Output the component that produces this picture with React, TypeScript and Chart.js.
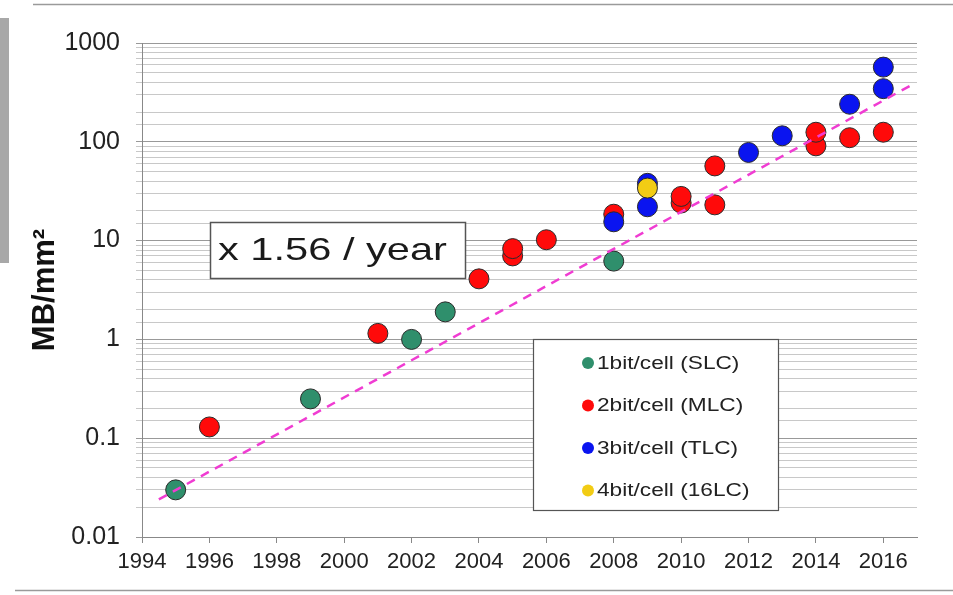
import React, { useEffect, useRef } from "react";
import { Chart, registerables } from "chart.js";

Chart.register(...registerables);

// ---- data ----
const slcYears = [1995, 1999, 2002, 2003, 2008];
const slcValues = [0.03, 0.25, 1.0, 1.9, 6.2];

const mlcYears = [1996, 2001, 2004, 2005, 2005, 2006, 2008, 2010, 2010, 2011, 2011, 2014, 2014, 2015, 2016];
const mlcValues = [0.13, 1.15, 4.1, 7.0, 8.3, 10.2, 18.5, 24, 28, 23, 57, 91, 125, 110, 125];

const tlcYears = [2008, 2009, 2009, 2012, 2013, 2015, 2016, 2016];
const tlcValues = [15.5, 22, 38, 78, 115, 240, 345, 570];

const qlcYears = [2009];
const qlcValues = [34];

const trendYears = [1994.5, 2016.8];
const trendValues = [0.024, 370];

const xTickValues = [1994, 1996, 1998, 2000, 2002, 2004, 2006, 2008, 2010, 2012, 2014, 2016];
const yTickLabels = ["0.01", "0.1", "1", "10", "100", "1000"];

const seriesLabels = ["1bit/cell (SLC)", "2bit/cell (MLC)", "3bit/cell (TLC)", "4bit/cell (16LC)"];
const seriesColors = ["#2f8f6c", "#ff0a0a", "#0a14f0", "#f2cc14"];
const annotationText = "x 1.56 / year";

const FONT = "'Liberation Sans', Arial, sans-serif";

const pts = (xs: number[], ys: number[]) => xs.map((x, i) => ({ x, y: ys[i] }));

const stretchedText = (ctx: CanvasRenderingContext2D, text: string, x: number, y: number, sx: number) => {
  ctx.save();
  ctx.translate(x, y);
  ctx.scale(sx, 1);
  ctx.fillText(text, 0, 0);
  ctx.restore();
};

const overlayPlugin = {
  id: "overlay",
  afterDraw(chart: any) {
    const ctx = chart.ctx as CanvasRenderingContext2D;
    ctx.save();
    // frame of the picture
    ctx.strokeStyle = "#9a9a9a";
    ctx.lineWidth = 1.5;
    ctx.beginPath();
    ctx.moveTo(33, 4.5);
    ctx.lineTo(953, 4.5);
    ctx.moveTo(15, 590.5);
    ctx.lineTo(953, 590.5);
    ctx.stroke();
    ctx.fillStyle = "#a8a8a8";
    ctx.fillRect(0, 18, 9, 245);

    // annotation box
    ctx.fillStyle = "#ffffff";
    ctx.fillRect(210, 222, 255, 56);
    ctx.strokeStyle = "#555";
    ctx.lineWidth = 1.5;
    ctx.strokeRect(210.5, 222.5, 255, 56);
    ctx.fillStyle = "#1a1a1a";
    ctx.font = `32px ${FONT}`;
    ctx.textBaseline = "middle";
    ctx.textAlign = "left";
    stretchedText(ctx, annotationText, 218, 251, 1.3);

    // legend
    ctx.fillStyle = "#ffffff";
    ctx.fillRect(533, 339, 245, 171);
    ctx.strokeStyle = "#555";
    ctx.lineWidth = 1.2;
    ctx.strokeRect(533.5, 339.5, 245, 171);
    ctx.font = `18px ${FONT}`;
    seriesLabels.forEach((lab, i) => {
      const cy = 363 + i * 42.5;
      ctx.beginPath();
      ctx.arc(588, cy, 6, 0, Math.PI * 2);
      ctx.fillStyle = seriesColors[i];
      ctx.fill();
      ctx.fillStyle = "#222";
      stretchedText(ctx, lab, 597, cy + 1, 1.26);
    });
    ctx.restore();
  },
};

export default function App() {
  const ref = useRef<HTMLCanvasElement | null>(null);
  useEffect(() => {
    document.body.style.margin = "0";
    if (!ref.current) return;
    Chart.defaults.font.family = FONT;
    const pointStyle = (c: string, ord: number, label: string, data: any[]) => ({
      type: "scatter" as const,
      label,
      data,
      backgroundColor: c,
      borderColor: "#2a2a2a",
      borderWidth: 1,
      pointRadius: 10,
      pointHoverRadius: 10,
      order: ord,
    });
    const chart = new Chart(ref.current, {
      type: "scatter",
      data: {
        datasets: [
          {
            type: "line",
            label: "trend",
            data: pts(trendYears, trendValues),
            borderColor: "#f03cd2",
            borderWidth: 2.5,
            borderDash: [9, 7],
            pointRadius: 0,
            fill: false,
            order: 0,
          } as any,
          pointStyle(seriesColors[3], 1, seriesLabels[3], pts(qlcYears, qlcValues)),
          pointStyle(seriesColors[2], 2, seriesLabels[2], pts(tlcYears, tlcValues)),
          pointStyle(seriesColors[1], 3, seriesLabels[1], pts(mlcYears, mlcValues)),
          pointStyle(seriesColors[0], 4, seriesLabels[0], pts(slcYears, slcValues)),
        ],
      },
      options: {
        animation: false,
        responsive: false,
        devicePixelRatio: 1,
        layout: { padding: { left: 0, right: 36, top: 43, bottom: 0 } },
        plugins: { legend: { display: false }, tooltip: { enabled: false } },
        scales: {
          x: {
            type: "linear",
            min: 1994,
            max: 2017,
            afterBuildTicks: (scale: any) => {
              scale.ticks = xTickValues.map((v) => ({ value: v }));
            },
            afterFit: (scale: any) => {
              scale.height = 58;
            },
            grid: { drawOnChartArea: false, tickLength: 6, color: "#888" },
            border: { color: "#888", width: 1 },
            ticks: {
              autoSkip: false,
              maxRotation: 0,
              padding: 6,
              color: "#222",
              font: { size: 22 },
              callback: (v: any) => String(v),
            },
          },
          y: {
            type: "logarithmic",
            min: 0.01,
            max: 1000,
            afterFit: (scale: any) => {
              scale.width = 142;
            },
            border: { color: "#888", width: 1 },
            grid: {
              tickLength: 6,
              color: (c: any) => {
                const v = c.tick ? c.tick.value : 1;
                const e = Math.log10(v);
                return Math.abs(e - Math.round(e)) < 1e-6 ? "#999999" : "#c8c8c8";
              },
              lineWidth: 1,
            },
            ticks: {
              autoSkip: false,
              padding: 16,
              color: "#222",
              font: { size: 25 },
              callback: (v: any) => {
                const e = Math.log10(Number(v));
                if (Math.abs(e - Math.round(e)) < 1e-6) {
                  return yTickLabels[Math.round(e) + 2] ?? "";
                }
                return "";
              },
            },
            title: {
              display: true,
              text: "MB/mm²",
              color: "#111",
              font: { size: 31, weight: "bold" },
              padding: { top: 27, bottom: 0 },
            },
          },
        },
      },
      plugins: [overlayPlugin],
    });
    return () => chart.destroy();
  }, []);
  return (
    <div style={{ position: "fixed", left: 0, top: 0, width: 953, height: 595, background: "#fff" }}>
      <canvas ref={ref} width={953} height={595} style={{ width: 953, height: 595 }} />
    </div>
  );
}
